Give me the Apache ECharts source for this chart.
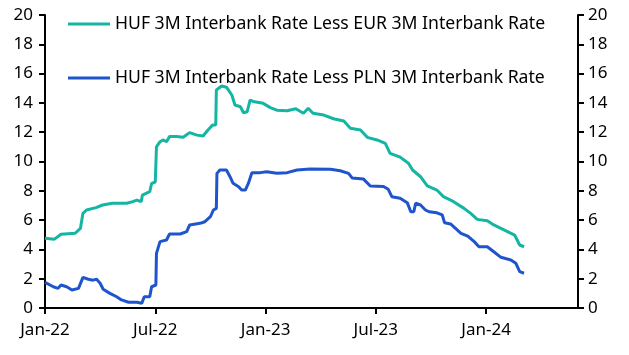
<!DOCTYPE html>
<html><head><meta charset="utf-8">
<script src="https://cdn.jsdelivr.net/npm/echarts@6/dist/echarts.min.js"></script>
<style>html,body{margin:0;padding:0;background:#fff}#c{width:629px;height:355px}</style>
</head><body><div id="c"></div>
<script>
const tickLabels = ['Jan-22','Jul-22','Jan-23','Jul-23','Jan-24'];
const eurDates = ['2022-01-01','2022-01-17','2022-01-28','2022-02-19','2022-02-27','2022-03-03','2022-03-09','2022-03-25','2022-04-05','2022-04-21','2022-05-15','2022-05-25','2022-06-01','2022-06-08','2022-06-10','2022-06-22','2022-06-25','2022-07-01','2022-07-03','2022-07-09','2022-07-14','2022-07-20','2022-07-25','2022-08-06','2022-08-17','2022-08-28','2022-09-09','2022-09-19','2022-09-27','2022-10-05','2022-10-10','2022-10-11','2022-10-20','2022-10-28','2022-11-06','2022-11-11','2022-11-20','2022-11-25','2022-12-01','2022-12-06','2022-12-11','2022-12-28','2023-01-09','2023-01-20','2023-02-06','2023-02-19','2023-03-03','2023-03-11','2023-03-19','2023-04-06','2023-04-22','2023-05-09','2023-05-20','2023-06-06','2023-06-17','2023-07-03','2023-07-17','2023-07-25','2023-08-11','2023-08-25','2023-09-01','2023-09-14','2023-09-25','2023-10-11','2023-10-22','2023-11-08','2023-11-25','2023-12-06','2023-12-17','2024-01-03','2024-01-14','2024-02-01','2024-02-17','2024-02-25','2024-03-03'];
const eurValues = [4.76,4.7,5.03,5.1,5.44,6.46,6.69,6.85,7.03,7.15,7.15,7.26,7.37,7.26,7.7,7.94,8.5,8.6,11.0,11.35,11.47,11.35,11.7,11.7,11.65,11.97,11.8,11.74,12.15,12.5,12.5,14.88,15.15,15.07,14.54,13.86,13.74,13.33,13.4,14.2,14.1,13.97,13.68,13.5,13.47,13.6,13.29,13.63,13.29,13.17,12.92,12.76,12.27,12.15,11.65,11.47,11.24,10.56,10.3,9.88,9.42,8.96,8.33,8.05,7.6,7.26,6.8,6.46,6.05,5.96,5.67,5.32,4.98,4.3,4.18];
const plnDates = ['2022-01-01','2022-01-15','2022-01-23','2022-01-28','2022-02-06','2022-02-14','2022-02-24','2022-03-03','2022-03-12','2022-03-20','2022-03-26','2022-04-01','2022-04-06','2022-04-17','2022-04-28','2022-05-06','2022-05-18','2022-06-01','2022-06-09','2022-06-13','2022-06-22','2022-06-25','2022-07-02','2022-07-03','2022-07-09','2022-07-20','2022-07-25','2022-08-12','2022-08-23','2022-08-28','2022-09-14','2022-09-22','2022-10-01','2022-10-06','2022-10-11','2022-10-12','2022-10-17','2022-10-28','2022-11-03','2022-11-08','2022-11-17','2022-11-22','2022-11-28','2022-12-03','2022-12-09','2022-12-23','2023-01-03','2023-01-20','2023-02-06','2023-02-21','2023-03-14','2023-04-17','2023-05-03','2023-05-17','2023-05-23','2023-06-11','2023-06-22','2023-07-14','2023-07-22','2023-07-28','2023-08-11','2023-08-23','2023-08-29','2023-09-03','2023-09-06','2023-09-14','2023-09-22','2023-09-28','2023-10-11','2023-10-20','2023-10-24','2023-11-03','2023-11-20','2023-12-01','2023-12-12','2023-12-20','2024-01-03','2024-01-14','2024-01-26','2024-02-11','2024-02-19','2024-02-25','2024-03-03'];
const plnValues = [1.75,1.45,1.34,1.57,1.45,1.23,1.34,2.09,1.96,1.9,1.96,1.69,1.28,1.0,0.77,0.55,0.39,0.39,0.32,0.77,0.77,1.45,1.57,3.73,4.53,4.64,5.05,5.05,5.21,5.67,5.78,5.89,6.23,6.69,6.8,9.19,9.42,9.42,8.96,8.51,8.28,8.05,8.05,8.5,9.24,9.24,9.3,9.2,9.24,9.42,9.48,9.47,9.37,9.19,8.88,8.8,8.33,8.3,8.1,7.6,7.49,7.19,6.57,6.57,7.15,7.03,6.69,6.57,6.5,6.35,5.82,5.74,5.1,4.91,4.53,4.18,4.18,3.84,3.46,3.28,3.05,2.48,2.37];
const seriesNames = ['HUF 3M Interbank Rate Less EUR 3M Interbank Rate','HUF 3M Interbank Rate Less PLN 3M Interbank Rate'];

function monthIndex(s){
  const [y,m,d] = s.split('-').map(Number);
  const dim = new Date(y, m, 0).getDate();
  return (y-2022)*12 + (m-1) + (d-1)/dim;
}
function pairs(dates, vals){ return dates.map((d,i)=>[monthIndex(d), vals[i]]); }

const FONT = 'Noto Sans';
const FS = 17;
const axisCommon = {
  axisLine:{show:true,lineStyle:{color:'#000',width:2}},
  axisTick:{show:true,length:6,lineStyle:{color:'#000',width:2}},
  splitLine:{show:false}
};
const chart = echarts.init(document.getElementById('c'), null, {renderer:'canvas'});
chart.setOption({
  animation:false,
  grid:{left:45,right:51,top:15,bottom:47,containLabel:false},
  legend:{
    orient:'vertical', left:68, top:13, padding:0, itemGap:32, itemWidth:42, itemHeight:3,
    icon:'rect',
    textStyle:{color:'#000',fontSize:17.6,fontFamily:FONT,lineHeight:22},
    data:seriesNames
  },
  xAxis:Object.assign({}, axisCommon, {
    type:'value', min:0, max:29, interval:6,
    axisLabel:{color:'#000',fontSize:FS,fontFamily:FONT,margin:14,showMaxLabel:false,
      formatter:v=> (v%6===0 && tickLabels[v/6]) ? tickLabels[v/6] : ''}
  }),
  yAxis:[
    Object.assign({}, axisCommon, {type:'value',min:0,max:20,interval:2,position:'left',
      axisLabel:{color:'#000',fontSize:FS,fontFamily:FONT,margin:12}}),
    Object.assign({}, axisCommon, {type:'value',min:0,max:20,interval:2,position:'right',
      axisLabel:{color:'#000',fontSize:FS,fontFamily:FONT,margin:10}})
  ],
  series:[
    {name:seriesNames[0],type:'line',showSymbol:false,data:pairs(eurDates,eurValues),
      lineStyle:{color:'#14b5a3',width:3},itemStyle:{color:'#14b5a3'}},
    {name:seriesNames[1],type:'line',showSymbol:false,data:pairs(plnDates,plnValues),
      lineStyle:{color:'#1f55cc',width:3},itemStyle:{color:'#1f55cc'}}
  ]
});
</script></body></html>
